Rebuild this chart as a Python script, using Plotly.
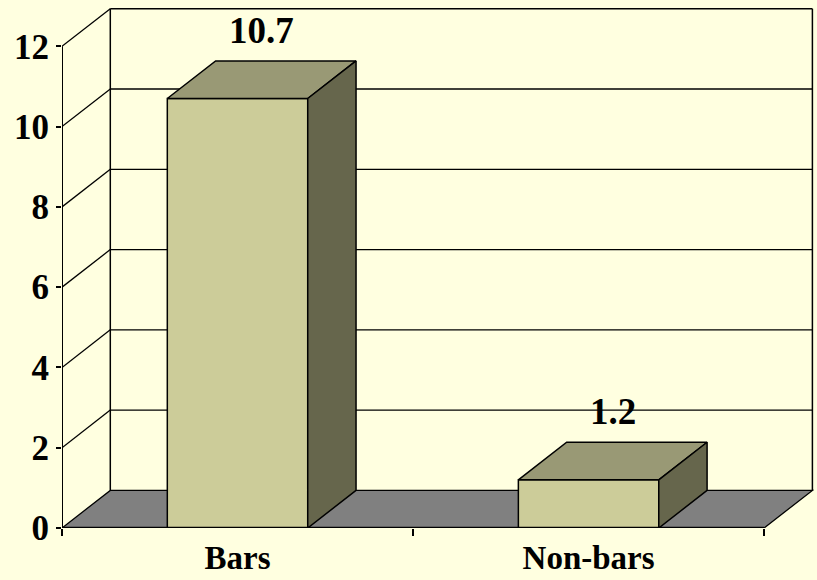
import plotly.graph_objects as go

categories = ["Bars", "Non-bars"]
values = [10.7, 1.2]
value_labels = ["10.7", "1.2"]
y_ticks = [0, 2, 4, 6, 8, 10, 12]

# 3D projection parameters (depth offset in data units)
DX = 0.1376
DY = 0.937
HALF_W = 0.2
X0, X1 = -0.5, 1.5
YMAX = 12

BG = "#FFFFE0"
FRONT = "#CCCC99"
TOP = "#999975"
SIDE = "#66664C"
FLOOR = "#808080"
FONT = "Liberation Serif"

xs = list(range(len(categories)))

fig = go.Figure()

# front faces
fig.add_trace(go.Bar(
    x=xs, y=values, width=2 * HALF_W,
    marker=dict(color=FRONT, line=dict(color="black", width=1.5)),
    hoverinfo="skip", showlegend=False,
))

# top and side faces
for x, v in zip(xs, values):
    l, r = x - HALF_W, x + HALF_W
    fig.add_trace(go.Scatter(
        x=[l, r, r + DX, l + DX, l], y=[v, v, v + DY, v + DY, v],
        mode="lines", fill="toself", fillcolor=TOP,
        line=dict(color="black", width=1.5), hoverinfo="skip", showlegend=False,
    ))
    fig.add_trace(go.Scatter(
        x=[r, r + DX, r + DX, r, r], y=[0, DY, v + DY, v, 0],
        mode="lines", fill="toself", fillcolor=SIDE,
        line=dict(color="black", width=1.5), hoverinfo="skip", showlegend=False,
    ))

shapes = []
# back wall gridlines + left wall diagonals
for t in y_ticks:
    if t == 0:
        continue
    shapes.append(dict(type="line", xref="x", yref="y", layer="below",
                       x0=X0 + DX, x1=X1 + DX, y0=t + DY, y1=t + DY,
                       line=dict(color="black", width=1.3)))
    shapes.append(dict(type="line", xref="x", yref="y", layer="below",
                       x0=X0, x1=X0 + DX, y0=t, y1=t + DY,
                       line=dict(color="black", width=1.3)))
# left wall vertical edge, back wall right edge
shapes.append(dict(type="line", xref="x", yref="y", layer="below",
                   x0=X0 + DX, x1=X0 + DX, y0=DY, y1=YMAX + DY,
                   line=dict(color="black", width=1.5)))
shapes.append(dict(type="line", xref="x", yref="y", layer="below",
                   x0=X1 + DX, x1=X1 + DX, y0=DY, y1=YMAX + DY,
                   line=dict(color="black", width=1.5)))
# floor
shapes.append(dict(type="path", xref="x", yref="y", layer="below",
                   path=f"M {X0},0 L {X1},0 L {X1 + DX},{DY} L {X0 + DX},{DY} Z",
                   fillcolor=FLOOR, line=dict(color="black", width=1.3)))
# front axes
shapes.append(dict(type="line", xref="x", yref="y", layer="above",
                   x0=X0, x1=X0, y0=0, y1=YMAX, line=dict(color="black", width=2)))
shapes.append(dict(type="line", xref="x", yref="y", layer="above",
                   x0=X0, x1=X1, y0=0, y1=0, line=dict(color="black", width=2.5)))

annotations = []
for x, v, lab in zip(xs, values, value_labels):
    annotations.append(dict(
        x=x + DX / 2, y=v + DY, xref="x", yref="y", text=f"<b>{lab}</b>",
        showarrow=False, yanchor="bottom", yshift=8,
        font=dict(family=FONT, size=37, color="black"),
    ))

fig.update_layout(
    width=817, height=580,
    margin=dict(l=62, r=2, t=7, b=52, autoexpand=False),
    paper_bgcolor=BG, plot_bgcolor=BG,
    shapes=shapes, annotations=annotations,
    showlegend=False,
    xaxis=dict(
        range=[-0.5, 1.645], tickvals=xs, ticktext=[f"<b>{c}</b>" for c in categories],
        showgrid=False, zeroline=False, showline=False, automargin=False,
        ticks="", ticklabelstandoff=7,
        tickfont=dict(family=FONT, size=33, color="black"),
        minor=dict(tickvals=[-0.5, 0.5, 1.5], ticks="outside", ticklen=7,
                   tickcolor="black", tickwidth=1.5),
        fixedrange=True,
    ),
    yaxis=dict(
        range=[0, 12.98], tickvals=y_ticks, ticktext=[f"<b>{t}</b>" for t in y_ticks],
        showgrid=False, zeroline=False, showline=False, automargin=False,
        ticks="outside", ticklen=5, tickcolor="black", tickwidth=1.5,
        tickfont=dict(family=FONT, size=35, color="black"),
        fixedrange=True,
    ),
)

fig.write_html(
    "out.html",
    config={"displayModeBar": False},
    post_script="document.body.style.margin='0px';document.body.style.background='#FFFFE0';",
)
